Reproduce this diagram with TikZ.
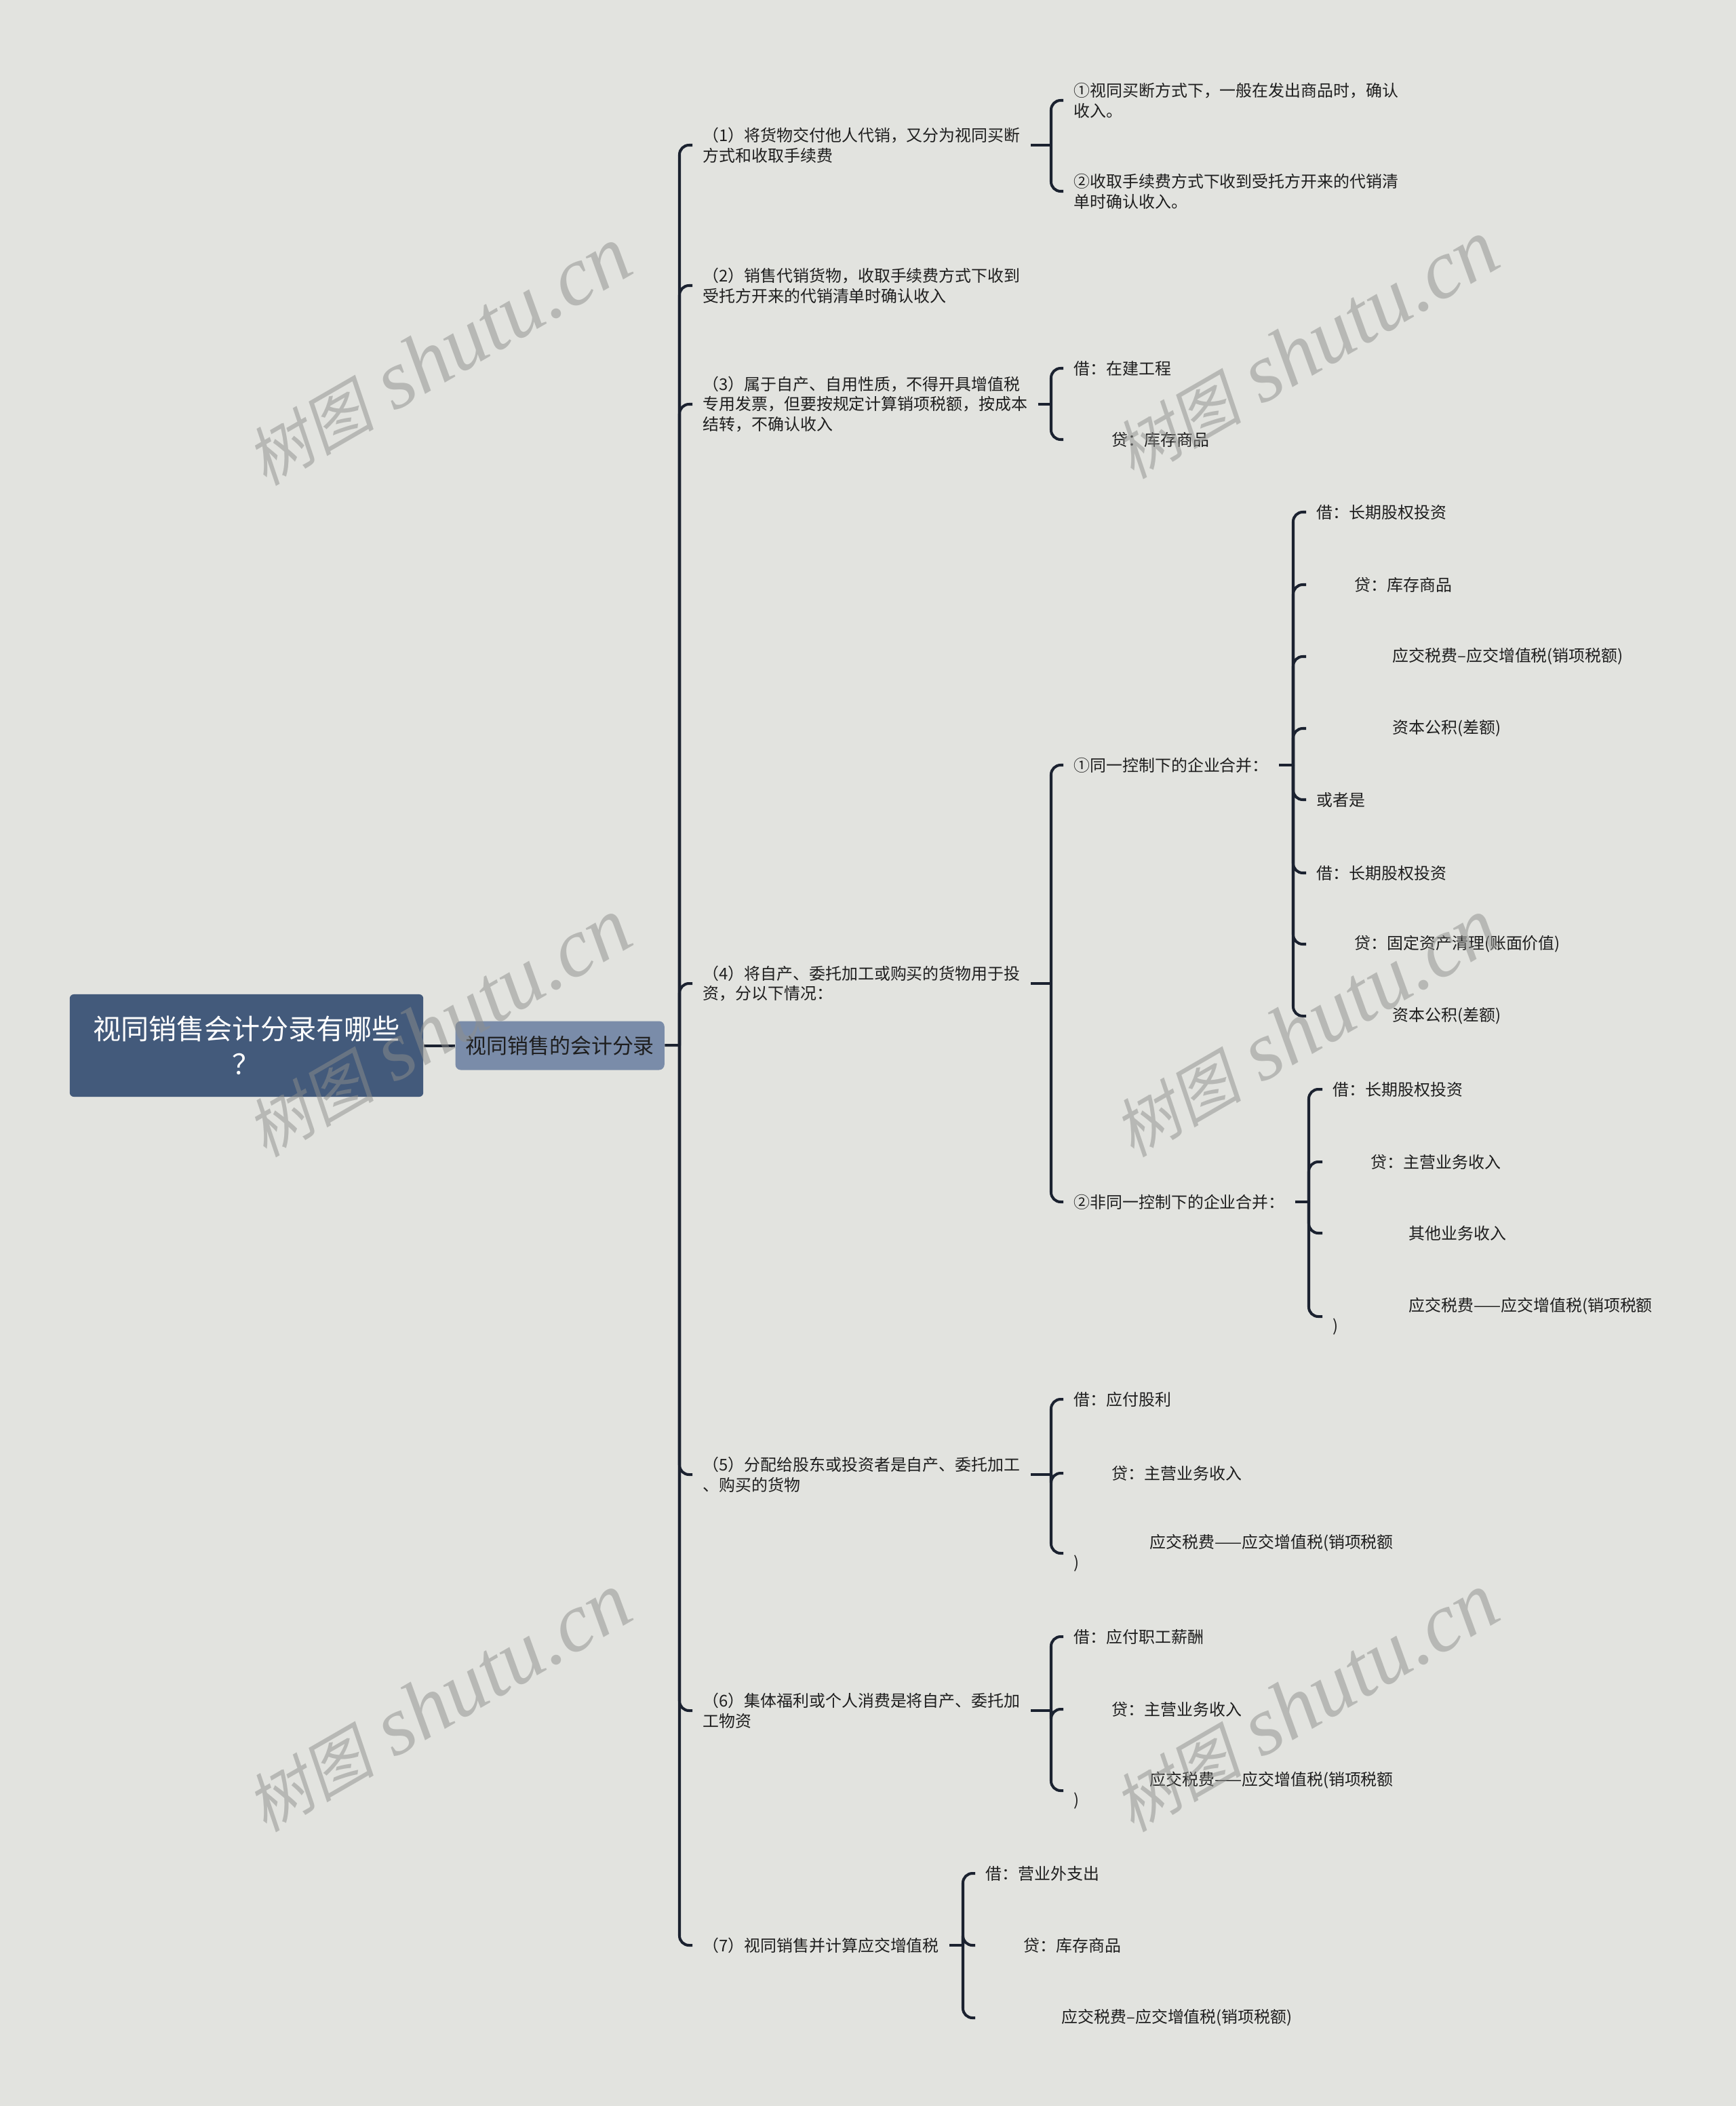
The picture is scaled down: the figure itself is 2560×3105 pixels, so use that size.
\documentclass[tikz,border=0pt]{standalone}
\usepackage{fontspec}
\setmainfont{Noto Sans CJK SC}
\newfontfamily\wmcjk[FakeSlant=0.2]{Noto Sans CJK SC}
\newfontfamily\wmlat{Liberation Serif}
\usetikzlibrary{positioning}
\definecolor{clrBg}{HTML}{E2E3DF}
\definecolor{clrRoot}{HTML}{435A7B}
\definecolor{clrTopic}{HTML}{7A8CA9}
\definecolor{clrLine}{HTML}{1B2230}
\definecolor{clrText}{HTML}{1E1E1E}
\definecolor{clrMark}{HTML}{8E8F8C}
\newcommand{\crind}{\hspace*{0.56cm}}
\newcommand{\taxind}{\hspace*{1.12cm}}
\tikzset{
  root/.style = {rectangle, rounded corners=0.06cm, minimum width=5.21cm, minimum height=1.51cm,
                 align=center, fill=clrRoot, text=white, font=\fontsize{11.7pt}{14.8pt}\selectfont},
  topic/.style = {rectangle, rounded corners=0.08cm, minimum width=3.08cm, minimum height=0.72cm,
                  align=center, fill=clrTopic, text=clrText, font=\fontsize{8.8pt}{10pt}\selectfont},
  item/.style = {anchor=west, inner xsep=0.15cm, inner ysep=0.03cm, align=left, text=clrText,
                 font=\fontsize{6.8pt}{8.5pt}\selectfont},
  link/.style = {draw=clrLine, line width=1.15pt, rounded corners=0.14cm},
  wmark/.style = {rotate=30, text=clrMark, text opacity=0.5},
}

\begin{document}
\begin{tikzpicture}[x=0.01cm, y=-0.01cm]

  \fill[clrBg] (0,0) rectangle (2560,3105);
  \useasboundingbox (0,0) rectangle (2560,3105);

  % Root and main topic
  \node[root] (Root) at (363.5,1541.5) {视同销售会计分录有哪些\\？};
  \node[topic, right=0.46cm of Root] (Topic) {视同销售的会计分录};
  \coordinate (J0) at (1002,1541);
  \draw[link] (Root) -- (Topic);
  \draw[link] (Topic) -- (J0);

  % Main spine: (1) ... (7)
  \node[item] (P1) at (1021,214)  {（1）将货物交付他人代销，又分为视同买断\\方式和收取手续费};
  \node[item] (P2) at (1021,421)  {（2）销售代销货物，收取手续费方式下收到\\受托方开来的代销清单时确认收入};
  \node[item] (P3) at (1021,596)  {（3）属于自产、自用性质，不得开具增值税\\专用发票，但要按规定计算销项税额，按成本\\结转，不确认收入};
  \node[item] (P4) at (1021,1450) {（4）将自产、委托加工或购买的货物用于投\\资，分以下情况：};
  \node[item] (P5) at (1021,2174) {（5）分配给股东或投资者是自产、委托加工\\、购买的货物};
  \node[item] (P6) at (1021,2522) {（6）集体福利或个人消费是将自产、委托加\\工物资};
  \node[item] (P7) at (1021,2868) {（7）视同销售并计算应交增值税};
  \foreach \n in {P1,P2,P3,P4,P5,P6,P7}
    \draw[link] (J0) |- (\n.west);

  % (1) two ways of consignment
  \coordinate (J1) at (1550,214);
  \node[item] (A1) at (1568,148) {①视同买断方式下，一般在发出商品时，确认\\收入。};
  \node[item] (A2) at (1568,282) {②收取手续费方式下收到受托方开来的代销清\\单时确认收入。};
  \draw[link] (P1.east) -- (J1);
  \foreach \c in {A1,A2}
    \draw[link] (J1) |- (\c.west);

  % (3) own use
  \coordinate (J3) at (1550,596);
  \node[item] (C1) at (1568,543) {借：在建工程};
  \node[item] (C2) at (1568,648) {\crind 贷：库存商品};
  \draw[link] (P3.east) -- (J3);
  \foreach \c in {C1,C2}
    \draw[link] (J3) |- (\c.west);

  % (4) investment
  \coordinate (J4) at (1550,1450);
  \node[item] (Q1) at (1568,1128) {①同一控制下的企业合并：};
  \node[item] (Q2) at (1568,1772) {②非同一控制下的企业合并：};
  \draw[link] (P4.east) -- (J4);
  \foreach \c in {Q1,Q2}
    \draw[link] (J4) |- (\c.west);

  \coordinate (J41) at (1907,1128);
  \node[item] (R1) at (1926,755)  {借：长期股权投资};
  \node[item] (R2) at (1926,862)  {\crind 贷：库存商品};
  \node[item] (R3) at (1926,968)  {\taxind 应交税费–应交增值税(销项税额)};
  \node[item] (R4) at (1926,1074) {\taxind 资本公积(差额)};
  \node[item] (R5) at (1926,1179) {或者是};
  \node[item] (R6) at (1926,1287) {借：长期股权投资};
  \node[item] (R7) at (1926,1392) {\crind 贷：固定资产清理(账面价值)};
  \node[item] (R8) at (1926,1498) {\taxind 资本公积(差额)};
  \draw[link] (Q1.east) -- (J41);
  \foreach \c in {R1,R2,R3,R4,R5,R6,R7,R8}
    \draw[link] (J41) |- (\c.west);

  \coordinate (J42) at (1930,1772);
  \node[item] (S1) at (1950,1606) {借：长期股权投资};
  \node[item] (S2) at (1950,1713) {\crind 贷：主营业务收入};
  \node[item] (S3) at (1950,1818) {\taxind 其他业务收入};
  \node[item] (S4) at (1950,1941) {\taxind 应交税费——应交增值税(销项税额\\)};
  \draw[link] (Q2.east) -- (J42);
  \foreach \c in {S1,S2,S3,S4}
    \draw[link] (J42) |- (\c.west);

  % (5) dividends
  \coordinate (J5) at (1550,2174);
  \node[item] (T1) at (1568,2063) {借：应付股利};
  \node[item] (T2) at (1568,2172) {\crind 贷：主营业务收入};
  \node[item] (T3) at (1568,2290) {\taxind 应交税费——应交增值税(销项税额\\)};
  \draw[link] (P5.east) -- (J5);
  \foreach \c in {T1,T2,T3}
    \draw[link] (J5) |- (\c.west);

  % (6) welfare
  \coordinate (J6) at (1550,2522);
  \node[item] (U1) at (1568,2413) {借：应付职工薪酬};
  \node[item] (U2) at (1568,2520) {\crind 贷：主营业务收入};
  \node[item] (U3) at (1568,2640) {\taxind 应交税费——应交增值税(销项税额\\)};
  \draw[link] (P6.east) -- (J6);
  \foreach \c in {U1,U2,U3}
    \draw[link] (J6) |- (\c.west);

  % (7) VAT
  \coordinate (J7) at (1420,2868);
  \node[item] (V1) at (1438,2762) {借：营业外支出};
  \node[item] (V2) at (1438,2868) {\crind 贷：库存商品};
  \node[item] (V3) at (1438,2975) {\taxind 应交税费–应交增值税(销项税额)};
  \draw[link] (P7.east) -- (J7);
  \foreach \c in {V1,V2,V3}
    \draw[link] (J7) |- (\c.west);

  % Watermarks
  \foreach \wx/\wy [count=\i] in {646/525,1925/515,646/1515,1925/1515,646/2510,1925/2510}
    \node[wmark] (W\i) at (\wx,\wy)
      {{\wmcjk\fontsize{27pt}{27pt}\selectfont 树图}\hspace{0.3cm}{\wmlat\itshape\fontsize{35pt}{35pt}\selectfont shutu.cn}};

\end{tikzpicture}
\end{document}
